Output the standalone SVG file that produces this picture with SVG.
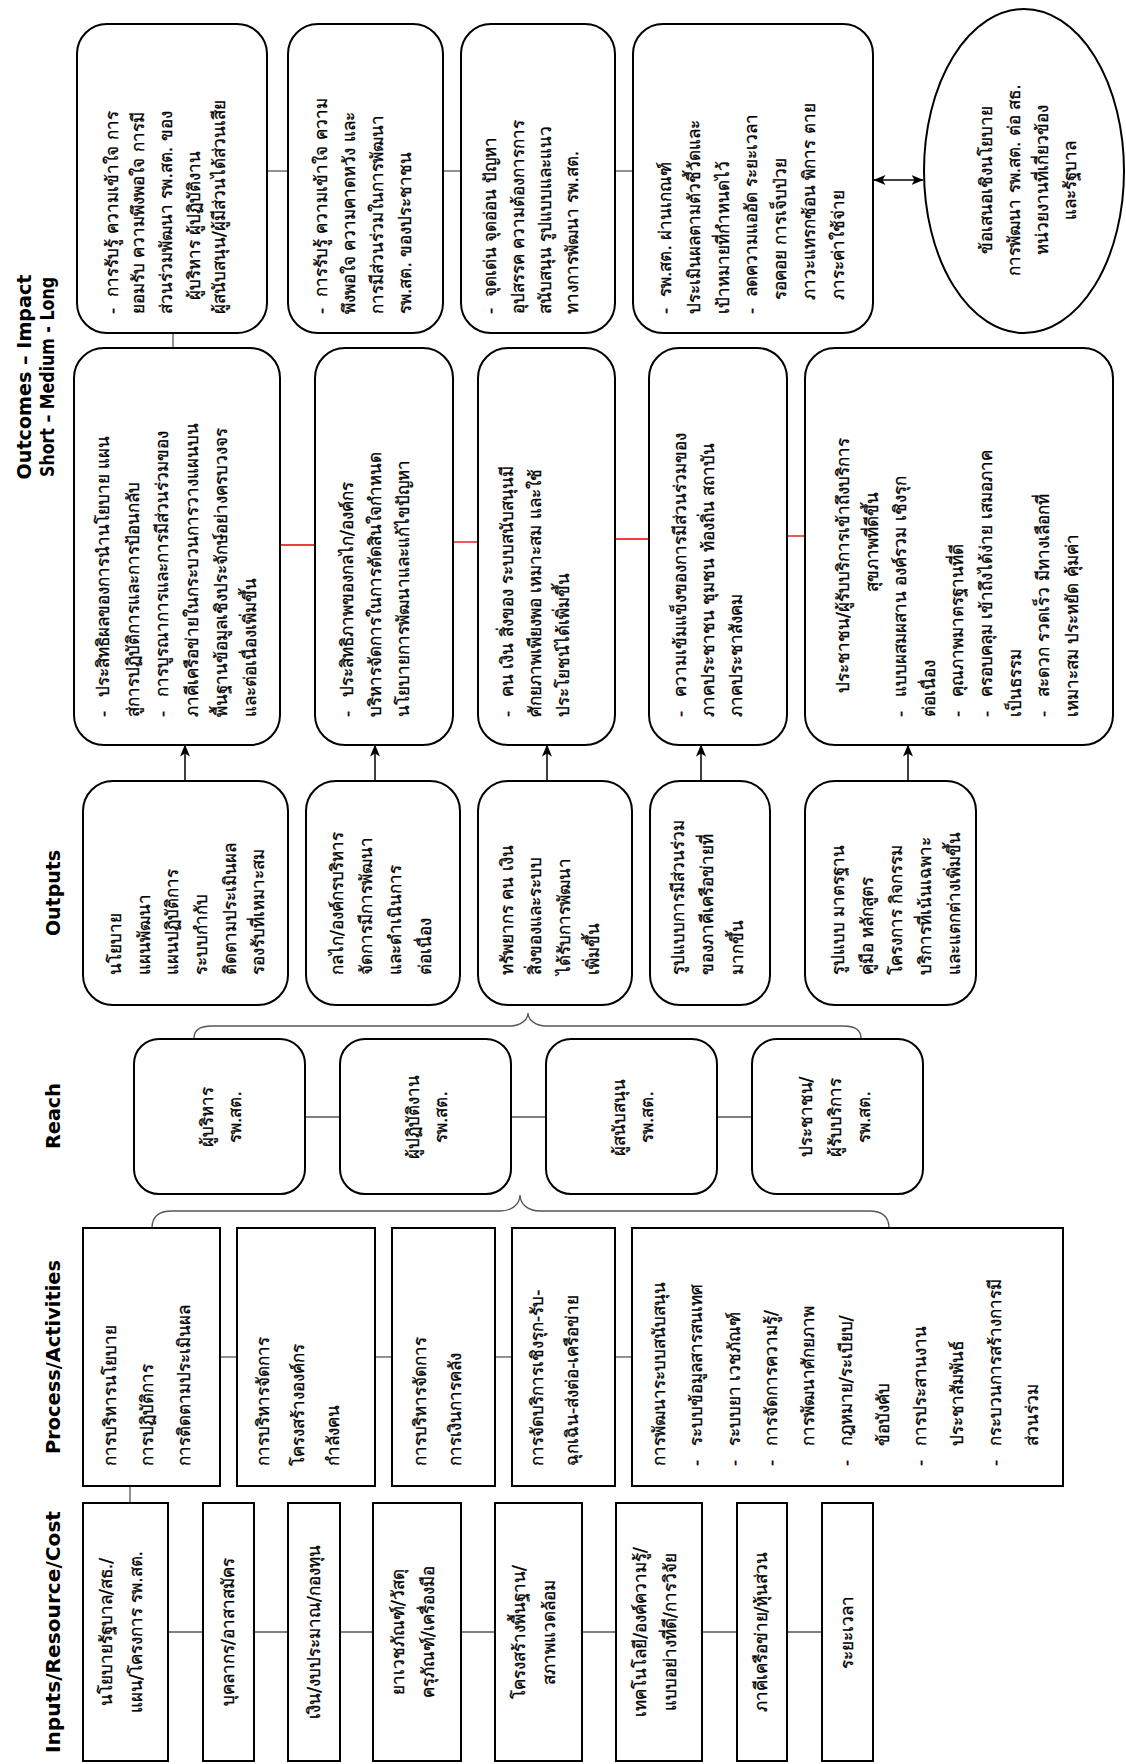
<svg xmlns="http://www.w3.org/2000/svg" width="1126" height="1764" viewBox="0 0 1126 1764">
<defs>
<style>
.box{fill:#fff;stroke:#000;stroke-width:2}
.hdr{font-family:'DejaVu Sans','Noto Sans',sans-serif;font-weight:bold;font-size:19px;fill:#000;text-anchor:middle}
.t{font-family:'DejaVu Sans','Noto Sans',sans-serif;font-size:17px;fill:#000;stroke:#000;stroke-width:0.3}
.c{text-anchor:middle}
.e{text-anchor:end}
.ln{stroke:#555;stroke-width:1.3;fill:none}
.red{stroke:#e00000;stroke-width:1.3;fill:none}
.arr{stroke:#000;stroke-width:1.5;fill:none}
</style>
<marker id="ah" viewBox="0 0 12 10" refX="11.5" refY="5" markerWidth="12" markerHeight="10" markerUnits="userSpaceOnUse" orient="auto-start-reverse"><path d="M0,0 L12,5 L0,10 L3,5 z" fill="#000"/></marker>
</defs>
<rect width="1126" height="1764" fill="#fff"/>
<g transform="translate(0,1764) rotate(-90)">

<g id="headers">
<text class="hdr" x="132" y="60" textLength="242" lengthAdjust="spacingAndGlyphs">Inputs/Resource/Cost</text>
<text class="hdr" x="407" y="60" textLength="194" lengthAdjust="spacingAndGlyphs">Process/Activities</text>
<text class="hdr" x="648" y="60" textLength="66" lengthAdjust="spacingAndGlyphs">Reach</text>
<text class="hdr" x="871" y="60" textLength="86" lengthAdjust="spacingAndGlyphs">Outputs</text>
<text class="hdr" x="1387" y="31" textLength="205" lengthAdjust="spacingAndGlyphs">Outcomes – Impact</text>
<text class="hdr" x="1387" y="54" textLength="200" lengthAdjust="spacingAndGlyphs">Short – Medium - Long</text>
</g>

<g id="connectors">
<line class="ln" x1="132" y1="168" x2="132" y2="203"/>
<line class="ln" x1="132" y1="254" x2="132" y2="288"/>
<line class="ln" x1="132" y1="340" x2="132" y2="373"/>
<line class="ln" x1="132" y1="461" x2="132" y2="495"/>
<line class="ln" x1="132" y1="582" x2="132" y2="616"/>
<line class="ln" x1="132" y1="702" x2="132" y2="737"/>
<line class="ln" x1="132" y1="787" x2="132" y2="822"/>
<line class="ln" x1="261" y1="130" x2="278" y2="130"/>
<line class="ln" x1="407" y1="220" x2="407" y2="237"/>
<line class="ln" x1="407" y1="375" x2="407" y2="392"/>
<line class="ln" x1="407" y1="495" x2="407" y2="512"/>
<line class="ln" x1="407" y1="615" x2="407" y2="632"/>
<path class="ln" d="M536,152 C547,152 553,158 553,172 L553,500 C553,512 560,520 569,520 C560,520 553,528 553,540 L553,869 C553,882 547,889 536,889"/>
<line class="ln" x1="647" y1="305" x2="647" y2="340"/>
<line class="ln" x1="647" y1="511" x2="647" y2="546"/>
<line class="ln" x1="647" y1="717" x2="647" y2="752"/>
<path class="ln" d="M726,194 C734,194 738,200 738,212 L738,510 C738,520 744,528 751,528 C744,528 738,536 738,546 L738,843 C738,855 734,861 726,861"/>
<line class="arr" x1="983" y1="185" x2="1019" y2="185" marker-end="url(#ah)"/>
<line class="arr" x1="983" y1="375" x2="1019" y2="375" marker-end="url(#ah)"/>
<line class="arr" x1="983" y1="547" x2="1019" y2="547" marker-end="url(#ah)"/>
<line class="arr" x1="983" y1="701" x2="1019" y2="701" marker-end="url(#ah)"/>
<line class="arr" x1="983" y1="908" x2="1019" y2="908" marker-end="url(#ah)"/>
<line class="red" x1="1219" y1="280" x2="1219" y2="315"/>
<line class="red" x1="1222" y1="453" x2="1222" y2="478"/>
<line class="red" x1="1225" y1="615" x2="1225" y2="649"/>
<line class="red" x1="1228" y1="787" x2="1228" y2="805"/>
<line class="ln" x1="1416" y1="173" x2="1431" y2="173"/>
<line class="ln" x1="1593" y1="267" x2="1593" y2="288"/>
<line class="ln" x1="1593" y1="443" x2="1593" y2="461"/>
<line class="ln" x1="1593" y1="615" x2="1593" y2="633"/>
<line class="arr" x1="1584" y1="874" x2="1584" y2="923" marker-start="url(#ah)" marker-end="url(#ah)"/>
</g>

<g id="in1"><rect class="box" x="3" y="83" width="258" height="85"/>
<text class="t c" x="132" y="112">นโยบายรัฐบาล/สธ./</text><text class="t c" x="132" y="142">แผน/โครงการ รพ.สต.</text></g>
<g id="in2"><rect class="box" x="3" y="203" width="258" height="51"/><text class="t c" x="132" y="234">บุคลากร/อาสาสมัคร</text></g>
<g id="in3"><rect class="box" x="3" y="288" width="258" height="52"/><text class="t c" x="132" y="320">เงิน/งบประมาณ/กองทุน</text></g>
<g id="in4"><rect class="box" x="3" y="373" width="258" height="88"/>
<text class="t c" x="132" y="404">ยาเวชภัณฑ์/วัสดุ</text><text class="t c" x="132" y="434">ครุภัณฑ์/เครื่องมือ</text></g>
<g id="in5"><rect class="box" x="3" y="495" width="258" height="87"/>
<text class="t c" x="132" y="525">โครงสร้างพื้นฐาน/</text><text class="t c" x="132" y="555">สภาพแวดล้อม</text></g>
<g id="in6"><rect class="box" x="3" y="616" width="258" height="86"/>
<text class="t c" x="132" y="646">เทคโนโลยี/องค์ความรู้/</text><text class="t c" x="132" y="676">แบบอย่างที่ดี/การวิจัย</text></g>
<g id="in7"><rect class="box" x="3" y="737" width="258" height="50"/><text class="t c" x="132" y="767">ภาคีเครือข่าย/หุ้นส่วน</text></g>
<g id="in8"><rect class="box" x="3" y="822" width="258" height="51"/><text class="t c" x="132" y="853">ระยะเวลา</text></g>

<g id="p1"><rect class="box" x="278" y="83" width="258" height="137"/>
<text class="t" x="298" y="116">การบริหารนโยบาย</text><text class="t" x="298" y="153">การปฏิบัติการ</text><text class="t" x="298" y="190">การติดตามประเมินผล</text></g>
<g id="p2"><rect class="box" x="278" y="237" width="258" height="138"/>
<text class="t" x="298" y="269">การบริหารจัดการ</text><text class="t" x="298" y="304">โครงสร้างองค์กร</text><text class="t" x="298" y="339">กำลังคน</text></g>
<g id="p3"><rect class="box" x="278" y="392" width="258" height="103"/>
<text class="t" x="298" y="426">การบริหารจัดการ</text><text class="t" x="298" y="461">การเงินการคลัง</text></g>
<g id="p4"><rect class="box" x="278" y="512" width="258" height="103"/>
<text class="t" x="298" y="543">การจัดบริการเชิงรุก-รับ-</text><text class="t" x="298" y="578">ฉุกเฉิน-ส่งต่อ-เครือข่าย</text></g>
<g id="p5"><rect class="box" x="278" y="632" width="258" height="431"/>
<text class="t" x="298" y="665">การพัฒนาระบบสนับสนุน</text>
<text class="t" y="702"><tspan x="298">-</tspan><tspan x="318">ระบบข้อมูลสารสนเทศ</tspan></text>
<text class="t" y="740"><tspan x="298">-</tspan><tspan x="318">ระบบยา เวชภัณฑ์</tspan></text>
<text class="t" y="777"><tspan x="298">-</tspan><tspan x="318">การจัดการความรู้/</tspan></text>
<text class="t" x="318" y="814">การพัฒนาศักยภาพ</text>
<text class="t" y="852"><tspan x="298">-</tspan><tspan x="318">กฎหมาย/ระเบียบ/</tspan></text>
<text class="t" x="318" y="889">ข้อบังคับ</text>
<text class="t" y="926"><tspan x="298">-</tspan><tspan x="318">การประสานงาน</tspan></text>
<text class="t" x="318" y="963">ประชาสัมพันธ์</text>
<text class="t" y="1001"><tspan x="298">-</tspan><tspan x="318">กระบวนการสร้างการมี</tspan></text>
<text class="t" x="318" y="1038">ส่วนร่วม</text></g>

<g id="r1"><rect class="box" x="570" y="134" width="155" height="171" rx="25"/>
<text class="t c" x="647" y="213">ผู้บริหาร</text><text class="t c" x="647" y="241">รพ.สต.</text></g>
<g id="r2"><rect class="box" x="570" y="340" width="155" height="171" rx="25"/>
<text class="t c" x="647" y="419">ผู้ปฏิบัติงาน</text><text class="t c" x="647" y="447">รพ.สต.</text></g>
<g id="r3"><rect class="box" x="570" y="546" width="155" height="171" rx="25"/>
<text class="t c" x="647" y="625">ผู้สนับสนุน</text><text class="t c" x="647" y="653">รพ.สต.</text></g>
<g id="r4"><rect class="box" x="570" y="752" width="155" height="171" rx="25"/>
<text class="t c" x="647" y="812">ประชาชน/</text><text class="t c" x="647" y="841">ผู้รับบริการ</text><text class="t c" x="647" y="870">รพ.สต.</text></g>

<g id="o1"><rect class="box" x="759" y="83" width="224" height="205" rx="30"/>
<text class="t" x="789" y="121">นโยบาย</text><text class="t" x="789" y="150">แผนพัฒนา</text><text class="t" x="789" y="178">แผนปฏิบัติการ</text><text class="t" x="789" y="207">ระบบกำกับ</text><text class="t" x="789" y="236">ติดตามประเมินผล</text><text class="t" x="789" y="264">รองรับที่เหมาะสม</text></g>
<g id="o2"><rect class="box" x="759" y="306" width="224" height="154" rx="30"/>
<text class="t" x="789" y="343">กลไก/องค์กรบริหาร</text><text class="t" x="789" y="372">จัดการมีการพัฒนา</text><text class="t" x="789" y="401">และดำเนินการ</text><text class="t" x="789" y="431">ต่อเนื่อง</text></g>
<g id="o3"><rect class="box" x="759" y="478" width="224" height="154" rx="30"/>
<text class="t" x="789" y="513">ทรัพยากร คน เงิน</text><text class="t" x="789" y="541">สิ่งของและระบบ</text><text class="t" x="789" y="570">ได้รับการพัฒนา</text><text class="t" x="789" y="599">เพิ่มขึ้น</text></g>
<g id="o4"><rect class="box" x="759" y="650" width="224" height="120" rx="30"/>
<text class="t" x="789" y="684">รูปแบบการมีส่วนร่วม</text><text class="t" x="789" y="713">ของภาคีเครือข่ายที่</text><text class="t" x="789" y="743">มากขึ้น</text></g>
<g id="o5"><rect class="box" x="759" y="805" width="224" height="171" rx="30"/>
<text class="t" x="789" y="844">รูปแบบ มาตรฐาน</text><text class="t" x="789" y="873">คู่มือ หลักสูตร</text><text class="t" x="789" y="902">โครงการ กิจกรรม</text><text class="t" x="789" y="931">บริการที่เน้นเฉพาะ</text><text class="t" x="789" y="960">และแตกต่างเพิ่มขึ้น</text></g>

<g id="s1"><rect class="box" x="1019" y="74" width="397" height="206" rx="30"/>
<text class="t" y="109"><tspan x="1047">-</tspan><tspan x="1067">ประสิทธิผลของการนำนโยบาย แผน</tspan></text>
<text class="t" x="1047" y="139">สู่การปฏิบัติการและการป้อนกลับ</text>
<text class="t" y="168"><tspan x="1047">-</tspan><tspan x="1067">การบูรณาการและการมีส่วนร่วมของ</tspan></text>
<text class="t" x="1047" y="198">ภาคีเครือข่ายในกระบวนการวางแผนบน</text>
<text class="t" x="1047" y="227">พื้นฐานข้อมูลเชิงประจักษ์อย่างครบวงจร</text>
<text class="t" x="1047" y="256">และต่อเนื่องเพิ่มขึ้น</text></g>
<g id="s2"><rect class="box" x="1019" y="315" width="397" height="138" rx="30"/>
<text class="t" y="353"><tspan x="1047">-</tspan><tspan x="1067">ประสิทธิภาพของกลไก/องค์กร</tspan></text>
<text class="t" x="1047" y="381">บริหารจัดการในการตัดสินใจกำหนด</text>
<text class="t" x="1047" y="409">นโยบายการพัฒนาและแก้ไขปัญหา</text></g>
<g id="s3"><rect class="box" x="1019" y="478" width="397" height="137" rx="30"/>
<text class="t" y="513"><tspan x="1047">-</tspan><tspan x="1067">คน เงิน สิ่งของ ระบบสนับสนุนมี</tspan></text>
<text class="t" x="1047" y="541">ศักยภาพเพียงพอ เหมาะสม และใช้</text>
<text class="t" x="1047" y="569">ประโยชน์ได้เพิ่มขึ้น</text></g>
<g id="s4"><rect class="box" x="1019" y="649" width="397" height="138" rx="30"/>
<text class="t" y="686"><tspan x="1047">-</tspan><tspan x="1067">ความเข้มแข็งของการมีส่วนร่วมของ</tspan></text>
<text class="t" x="1047" y="714">ภาคประชาชน ชุมชน ท้องถิ่น สถาบัน</text>
<text class="t" x="1047" y="742">ภาคประชาสังคม</text></g>
<g id="s5"><rect class="box" x="1019" y="805" width="397" height="308" rx="30"/>
<text class="t" x="1071" y="849">ประชาชน/ผู้รับบริการเข้าถึงบริการ</text>
<text class="t e" x="1272" y="878">สุขภาพที่ดีขึ้น</text>
<text class="t" y="906"><tspan x="1047">-</tspan><tspan x="1067">แบบผสมผสาน องค์รวม เชิงรุก</tspan></text>
<text class="t" x="1047" y="935">ต่อเนื่อง</text>
<text class="t" y="963"><tspan x="1047">-</tspan><tspan x="1067">คุณภาพมาตรฐานที่ดี</tspan></text>
<text class="t" y="992"><tspan x="1047">-</tspan><tspan x="1067">ครอบคลุม เข้าถึงได้ง่าย เสมอภาค</tspan></text>
<text class="t" x="1047" y="1021">เป็นธรรม</text>
<text class="t" y="1049"><tspan x="1047">-</tspan><tspan x="1067">สะดวก รวดเร็ว มีทางเลือกที่</tspan></text>
<text class="t" x="1047" y="1078">เหมาะสม ประหยัด คุ้มค่า</text></g>

<g id="l1"><rect class="box" x="1431" y="77" width="309" height="190" rx="30"/>
<text class="t" y="118"><tspan x="1450">-</tspan><tspan x="1467">การรับรู้ ความเข้าใจ การ</tspan></text>
<text class="t" x="1450" y="144">ยอมรับ ความพึงพอใจ การมี</text>
<text class="t" x="1450" y="172">ส่วนร่วมพัฒนา รพ.สต. ของ</text>
<text class="t" x="1464" y="200">ผู้บริหาร ผู้ปฏิบัติงาน</text>
<text class="t" x="1450" y="225">ผู้สนับสนุน/ผู้มีส่วนได้ส่วนเสีย</text></g>
<g id="l2"><rect class="box" x="1431" y="288" width="309" height="155" rx="30"/>
<text class="t" y="327"><tspan x="1450">-</tspan><tspan x="1467">การรับรู้ ความเข้าใจ ความ</tspan></text>
<text class="t" x="1450" y="355">พึงพอใจ ความคาดหวัง และ</text>
<text class="t" x="1450" y="383">การมีส่วนร่วมในการพัฒนา</text>
<text class="t" x="1450" y="411">รพ.สต. ของประชาชน</text></g>
<g id="l3"><rect class="box" x="1431" y="461" width="309" height="154" rx="30"/>
<text class="t" y="496"><tspan x="1450">-</tspan><tspan x="1467">จุดเด่น จุดอ่อน ปัญหา</tspan></text>
<text class="t" x="1450" y="524">อุปสรรค ความต้องการการ</text>
<text class="t" x="1450" y="551">สนับสนุน รูปแบบและแนว</text>
<text class="t" x="1450" y="578">ทางการพัฒนา รพ.สต.</text></g>
<g id="l4"><rect class="box" x="1431" y="633" width="309" height="240" rx="30"/>
<text class="t" y="671"><tspan x="1450">-</tspan><tspan x="1467">รพ.สต. ผ่านเกณฑ์</tspan></text>
<text class="t" x="1450" y="700">ประเมินผลตามตัวชี้วัดและ</text>
<text class="t" x="1450" y="729">เป้าหมายที่กำหนดไว้</text>
<text class="t" y="757"><tspan x="1450">-</tspan><tspan x="1467">ลดความแออัด ระยะเวลา</tspan></text>
<text class="t" x="1464" y="786">รอคอย การเจ็บป่วย</text>
<text class="t" x="1464" y="815">ภาวะแทรกซ้อน พิการ ตาย</text>
<text class="t" x="1464" y="844">ภาระค่าใช้จ่าย</text></g>

<g id="policy"><ellipse class="box" cx="1593" cy="1024" rx="162" ry="100"/>
<text class="t c" x="1584" y="992">ข้อเสนอเชิงนโยบาย</text>
<text class="t c" x="1584" y="1020">การพัฒนา รพ.สต. ต่อ สธ.</text>
<text class="t c" x="1584" y="1048">หน่วยงานที่เกี่ยวข้อง</text>
<text class="t c" x="1584" y="1076">และรัฐบาล</text></g>

</g>
</svg>
